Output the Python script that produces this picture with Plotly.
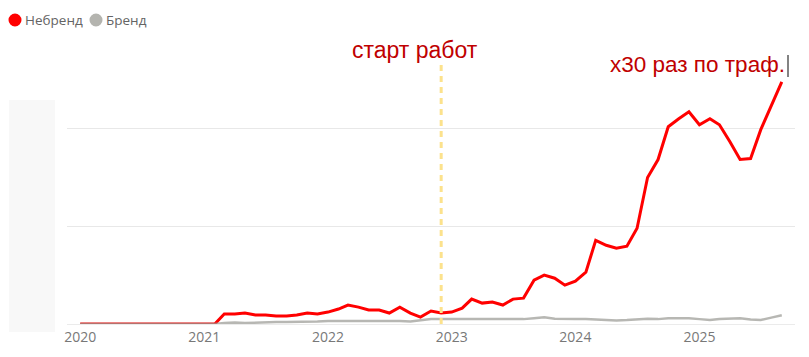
import pandas as pd
import plotly.graph_objects as go

# Monthly points, Jan 2020 .. Sep 2025
months = pd.date_range("2020-01-01", periods=69, freq="MS")

series_names = ["Небренд", "Бренд"]

nonbrand = [0, 0, 0, 0, 0, 0, 0, 0, 0, 0, 0, 0, 0, 0,
            10.2, 10.2, 11.2, 9.2, 9.2, 8.2, 8.2, 9.2, 11.2, 10.2,
            12.2, 15.3, 19.4, 17.3, 14.3, 14.3, 11.2, 17.3, 11.2, 7.1, 13.3, 11.2,
            12.2, 16.3, 25.5, 21.4, 22.4, 19.4, 25.5, 26.5, 44.9, 50, 46.9, 39.8,
            43.9, 53.1, 85.7, 80.6, 77.6, 79.6, 98, 150, 168.4, 202, 210.2, 217.3,
            204, 210.2, 204, 186.7, 168.4, 169.4, 199, 224.5, 248]

brand = [0, 0, 0, 0, 0, 0, 0, 0, 0, 0, 0, 0, 0, 0,
         1, 1.5, 1, 1.5, 1.5, 2, 2, 2, 2.5, 2.5,
         3, 3, 3, 3.5, 3, 3, 3, 3, 2.5, 4, 5, 5,
         5, 5.5, 5.5, 5, 5, 5, 5, 5, 6, 7, 5.5, 5,
         5, 5, 4.5, 4.5, 3.5, 4, 5, 5.5, 5, 6, 6, 6,
         5, 4, 5, 5.5, 6, 4.5, 4, 6.5, 9]

y_ticks = [0, 100, 200]
start_date = "2022-12-01"
label_start = "старт работ"
label_growth = "x30 раз по траф."

RED = "#FF0000"
GRAY = "rgba(155,155,150,0.72)"
GRAY_LEG = "rgb(180,180,175)"
colors = [RED, GRAY]
legend_colors = [RED, GRAY_LEG]

fig = go.Figure()
for name, vals, col, w in zip(series_names, [nonbrand, brand], colors, [3, 2.5]):
    fig.add_trace(go.Scatter(x=months, y=vals, mode="lines", name=name,
                             line=dict(color=col, width=w), showlegend=False))

# legend drawn at top-left: circle symbol + label
PLOT_L, PLOT_W, PLOT_B, PLOT_H = 67, 728, 324, 293
def px_x(p):
    return (p - PLOT_L) / PLOT_W
def px_y(p):
    return (PLOT_B - p) / PLOT_H

legend_circle_x = [15, 96]
legend_text_x = [24, 105]
for name, lc, cx, tx in zip(series_names, legend_colors, legend_circle_x, legend_text_x):
    fig.add_shape(type="circle", xref="paper", yref="paper",
                  x0=px_x(cx - 6.5), x1=px_x(cx + 6.5), y0=px_y(26.5), y1=px_y(13.5),
                  fillcolor=lc, line=dict(width=0))
    fig.add_annotation(text=name, xref="paper", yref="paper",
                       x=px_x(tx), y=px_y(20), xanchor="left", yanchor="middle",
                       showarrow=False, borderpad=0,
                       font=dict(family="Open Sans, Noto Sans, sans-serif", size=13.5,
                                 color="rgb(100,100,100)"))

# faint blurred box where the y labels were
fig.add_shape(type="rect", xref="paper", yref="paper",
              x0=px_x(9), x1=px_x(55), y0=px_y(332), y1=px_y(100),
              fillcolor="rgb(248,248,248)", line=dict(width=0), layer="below")

# start line
fig.add_shape(type="line", xref="x", yref="paper",
              x0=start_date, x1=start_date, y0=0, y1=px_y(63),
              line=dict(color="rgb(252,226,140)", width=3, dash="6px,5px"))

# text cursor after annotation
fig.add_shape(type="line", xref="paper", yref="paper",
              x0=px_x(788), x1=px_x(788), y0=px_y(77), y1=px_y(55),
              line=dict(color="rgb(90,90,90)", width=1.5))

fig.add_annotation(text=label_start, xref="paper", yref="paper",
                   x=px_x(415), y=px_y(50), xanchor="center", yanchor="middle",
                   showarrow=False, font=dict(family="Arial, Liberation Sans", size=23, color="#C00000"))
fig.add_annotation(text=label_growth, xref="paper", yref="paper",
                   x=px_x(787), y=px_y(65), xanchor="right", yanchor="middle",
                   showarrow=False, font=dict(family="Arial, Liberation Sans", size=22.5, color="#C00000"))

fig.update_layout(
    width=809, height=357,
    margin=dict(l=67, r=14, t=31, b=33, autoexpand=False),
    paper_bgcolor="white", plot_bgcolor="white",
    showlegend=False,
    font=dict(family="Open Sans, Noto Sans, sans-serif", color="rgb(110,110,110)"),
    xaxis=dict(type="date", range=["2019-11-23", "2025-10-10"],
               tick0="2020-01-01", dtick="M12", tickformat="%Y",
               showgrid=False, zeroline=False, showline=False, ticks="",
               ticklabelstandoff=3,
               tickfont=dict(size=14, color="rgb(120,120,120)")),
    yaxis=dict(range=[0, 300], tickvals=y_ticks, showticklabels=False,
               showgrid=True, gridcolor="rgb(232,232,232)", gridwidth=1,
               zeroline=True, zerolinecolor="rgb(235,235,235)", zerolinewidth=1,
               showline=False, ticks=""),
)

fig.write_html("out.html")
